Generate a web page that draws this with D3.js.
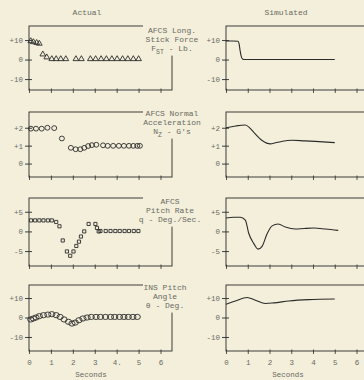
<!DOCTYPE html>
<html>
<head>
<meta charset="utf-8">
<script src="https://cdn.jsdelivr.net/npm/d3@7"></script>
<style>
  html, body { margin: 0; padding: 0; background: #f3efdb; }
  svg { display: block; }
  text { font-family: "Liberation Mono", "DejaVu Sans Mono", monospace; }
</style>
</head>
<body>
<svg id="chart" width="364" height="380"></svg>
<script>
// ---- data -------------------------------------------------------------
const columnTitles = ["Actual", "Simulated"];
const secondsTicks = [0, 1, 2, 3, 4, 5, 6];
const actualTickLabels = ["0", "1", "2", "3", "4.", "5", "6"];
const simulatedTickLabels = ["0", "1", "2", "3", "4", "5", "6"];
const xAxisTitle = "Seconds";

// AFCS longitudinal stick force, lb
const stickForceTicks = [10, 0, -10];
const stickForceTickLabels = ["+10", "0", "-10"];
const stickForceActual = [
  [0.08, 9.5], [0.2, 9.0], [0.35, 8.6], [0.47, 8.2], [0.63, 2.7], [0.81, 1.2],
  [1.04, 0.3], [1.24, 0.3], [1.45, 0.3], [1.68, 0.3], [2.14, 0.3], [2.39, 0.3],
  [2.8, 0.3], [3.04, 0.3], [3.29, 0.3], [3.53, 0.3], [3.78, 0.3], [4.02, 0.3],
  [4.27, 0.3], [4.51, 0.3], [4.76, 0.3], [5.0, 0.3]
];
const stickForceSimulated = [
  [0, 9.5], [0.3, 9.5], [0.55, 9.4], [0.6, 8.2], [0.65, 4.5], [0.7, 1.6],
  [0.76, 0.3], [0.85, 0], [2, 0], [3.5, 0], [5.0, 0]
];

// AFCS normal acceleration, g
const accelTicks = [2, 1, 0];
const accelTickLabels = ["+2", "+1", "0"];
const accelActual = [
  [0.09, 1.95], [0.32, 1.95], [0.58, 1.95], [0.84, 2.0], [1.15, 1.98],
  [1.5, 1.4], [1.91, 0.88], [2.13, 0.8], [2.34, 0.8], [2.52, 0.88],
  [2.7, 0.98], [2.87, 1.03], [3.07, 1.05], [3.38, 1.02], [3.59, 0.99],
  [3.84, 0.99], [4.1, 0.99], [4.33, 0.99], [4.56, 0.99], [4.76, 0.99],
  [4.94, 0.99], [5.06, 0.99]
];
const accelSimulated = [
  [0, 2.0], [0.45, 2.1], [0.89, 2.15], [1.1, 1.98], [1.28, 1.74],
  [1.66, 1.29], [2.04, 1.1], [2.27, 1.16], [2.6, 1.25], [3.04, 1.3],
  [3.6, 1.27], [4.1, 1.24], [5.0, 1.17]
];

// AFCS pitch rate, deg/sec
const pitchRateTicks = [5, 0, -5];
const pitchRateTickLabels = ["+5", "0", "-5"];
const pitchRateActual = [
  [0.09, 2.8], [0.28, 2.8], [0.47, 2.8], [0.66, 2.8], [0.86, 2.8], [1.04, 2.8],
  [1.24, 2.4], [1.39, 1.3], [1.54, -2.3], [1.73, -5.1], [1.88, -6.2],
  [2.03, -5.1], [2.16, -3.7], [2.28, -2.6], [2.37, -1.3], [2.52, 0.0],
  [2.72, 1.9], [3.03, 1.9], [3.1, 0.9], [3.18, 0.0], [3.26, 0.1],
  [3.5, 0.1], [3.72, 0.1], [3.94, 0.1], [4.14, 0.1], [4.36, 0.1],
  [4.56, 0.1], [4.78, 0.1], [4.99, 0.1]
];
const pitchRateSimulated = [
  [0, 3.4], [0.35, 3.6], [0.66, 3.6], [0.89, 2.9], [1.04, -0.4],
  [1.28, -3.1], [1.47, -4.5], [1.66, -3.8], [1.89, -0.6], [2.12, 1.4],
  [2.4, 1.9], [2.73, 1.1], [3.19, 0.6], [3.6, 0.75], [4.04, 0.85],
  [4.58, 0.6], [5.16, 0.25]
];

// INS pitch angle, deg
const pitchAngleTicks = [10, 0, -10];
const pitchAngleTickLabels = ["+10", "0", "-10"];
const pitchAngleActual = [
  [0.08, -1.0], [0.2, -0.5], [0.32, 0.0], [0.47, 0.7], [0.66, 1.2],
  [0.86, 1.5], [1.04, 1.7], [1.24, 1.2], [1.42, 0.3], [1.6, -1.0],
  [1.8, -2.2], [1.96, -3.1], [2.11, -2.6], [2.28, -1.4], [2.46, -0.5],
  [2.65, 0.0], [2.84, 0.3], [3.06, 0.3], [3.26, 0.3], [3.49, 0.3],
  [3.72, 0.3], [3.91, 0.3], [4.13, 0.3], [4.33, 0.3], [4.53, 0.3],
  [4.74, 0.3], [4.94, 0.3]
];
const pitchAngleSimulated = [
  [0, 6.8], [0.43, 8.5], [0.97, 10.3], [1.35, 8.9], [1.81, 7.2],
  [2.2, 7.5], [2.89, 8.5], [3.81, 9.2], [5.0, 9.5]
];

// panel captions; subscripts written as [base, sub, rest]
const stickForceLabel = ["AFCS Long.", "Stick Force", ["F", "ST", " - Lb."]];
const accelLabel = ["AFCS Normal", "Acceleration", ["N", "Z", " - G's"]];
const pitchRateLabel = ["AFCS", "Pitch Rate", "q - Deg./Sec."];
const pitchAngleLabel = ["INS Pitch", "Angle", "\u03B8 - Deg."];

// ---- layout -----------------------------------------------------------
const ink = "#2b2b2b";
const textInk = "#6a6a62";
const bg = "#f3efdb";

const panels = [
  { ticks: stickForceTicks, tickLabels: stickForceTickLabels, actual: stickForceActual,
    simulated: stickForceSimulated, label: stickForceLabel, marker: "triangle",
    domain: [-15.6, 17.2], top: 26, bottom: 90, labelX: 172, labelTop: 30 },
  { ticks: accelTicks, tickLabels: accelTickLabels, actual: accelActual,
    simulated: accelSimulated, label: accelLabel, marker: "circle",
    domain: [-0.75, 2.88], top: 112, bottom: 177, labelX: 172, labelTop: 113 },
  { ticks: pitchRateTicks, tickLabels: pitchRateTickLabels, actual: pitchRateActual,
    simulated: pitchRateSimulated, label: pitchRateLabel, marker: "square",
    domain: [-8.8, 8.5], top: 198, bottom: 266, labelX: 170, labelTop: 201 },
  { ticks: pitchAngleTicks, tickLabels: pitchAngleTickLabels, actual: pitchAngleActual,
    simulated: pitchAngleSimulated, label: pitchAngleLabel, marker: "circleWide",
    domain: [-17.2, 16.7], top: 285, bottom: 351, labelX: 165, labelTop: 287 }
];

const svg = d3.select("#chart");
svg.append("rect").attr("width", 364).attr("height", 380).attr("fill", bg);

const xActual = d3.scaleLinear().domain([0, 6]).range([29, 160.5]);
const xSim = d3.scaleLinear().domain([0, 6]).range([226, 356.5]);
const frames = [
  { x: xActual, left: 29, right: 172, tickLabels: actualTickLabels, kind: "actual" },
  { x: xSim, left: 226, right: 372, tickLabels: simulatedTickLabels, kind: "simulated" }
];

// column titles
svg.append("text").attr("x", 87).attr("y", 15).attr("text-anchor", "middle")
  .attr("font-size", 8).attr("fill", textInk).text(columnTitles[0]);
svg.append("text").attr("x", 286).attr("y", 15).attr("text-anchor", "middle")
  .attr("font-size", 8).attr("fill", textInk).text(columnTitles[1]);

const lineGen = d3.line().curve(d3.curveMonotoneX);

panels.forEach((p, pi) => {
  const y = d3.scaleLinear().domain(p.domain).range([p.bottom, p.top]);
  frames.forEach(f => {
    const g = svg.append("g");
    // frame
    g.append("rect")
      .attr("x", f.left).attr("y", p.top)
      .attr("width", f.right - f.left).attr("height", p.bottom - p.top)
      .attr("fill", "none").attr("stroke", ink).attr("stroke-width", 0.9);

    // y axis ticks crossing the left edge
    const yAxis = d3.axisLeft(y).tickValues(p.ticks)
      .tickFormat((d, i) => p.tickLabels[i]).tickSizeInner(4).tickSizeOuter(0).tickPadding(2);
    const ya = g.append("g").attr("transform", `translate(${f.left},0)`).call(yAxis);
    ya.select(".domain").remove();
    ya.selectAll(".tick line").attr("x2", -4).attr("x1", 3).attr("stroke", ink).attr("stroke-width", 0.9);
    ya.selectAll(".tick text").attr("fill", textInk).attr("font-size", 7.5)
      .attr("font-family", "Liberation Mono, DejaVu Sans Mono, monospace");

    // x axis ticks along the bottom edge
    const isLast = pi === panels.length - 1;
    const xAxis = d3.axisBottom(f.x).tickValues(secondsTicks)
      .tickFormat((d, i) => isLast ? f.tickLabels[i] : "").tickSizeInner(3).tickSizeOuter(0).tickPadding(6);
    const xa = g.append("g").attr("transform", `translate(0,${p.bottom})`).call(xAxis);
    xa.select(".domain").remove();
    xa.selectAll(".tick line").attr("y1", -1.5).attr("stroke", ink).attr("stroke-width", 0.8);
    xa.selectAll(".tick text").attr("fill", textInk).attr("font-size", 7.5)
      .attr("font-family", "Liberation Mono, DejaVu Sans Mono, monospace");

    if (f.kind === "actual") {
      const pts = p.actual;
      if (p.marker === "circle" || p.marker === "circleWide") {
        g.selectAll("ellipse.m").data(pts).join("ellipse")
          .attr("cx", d => f.x(d[0])).attr("cy", d => y(d[1]))
          .attr("rx", p.marker === "circleWide" ? 3.1 : 2.5)
          .attr("ry", p.marker === "circleWide" ? 2.6 : 2.4)
          .attr("fill", "none").attr("stroke", ink).attr("stroke-width", 0.9);
      } else {
        const sym = p.marker === "triangle" ? d3.symbolTriangle : d3.symbolSquare;
        const size = p.marker === "triangle" ? 14 : 10;
        g.selectAll("path.m").data(pts).join("path")
          .attr("transform", d => `translate(${f.x(d[0])},${y(d[1])})`)
          .attr("d", d3.symbol().type(sym).size(size))
          .attr("fill", "none").attr("stroke", ink).attr("stroke-width", 0.9);
      }
    } else {
      g.append("path")
        .attr("d", lineGen.x(d => f.x(d[0])).y(d => y(d[1]))(p.simulated))
        .attr("fill", "none").attr("stroke", ink).attr("stroke-width", 1.1);
    }
  });

  // caption box cut into the frame between the two columns
  const lineH = 9.3;
  const n = p.label.length;
  svg.append("rect")
    .attr("x", 143).attr("y", p.top - 4)
    .attr("width", 60).attr("height", p.labelTop - p.top + (n - 1) * lineH + 11)
    .attr("fill", bg);
  p.label.forEach((ln, li) => {
    const t = svg.append("text")
      .attr("x", p.labelX).attr("y", p.labelTop + li * lineH + 2.5)
      .attr("text-anchor", "middle").attr("font-size", 8).attr("fill", textInk);
    if (Array.isArray(ln)) {
      t.append("tspan").text(ln[0]);
      t.append("tspan").attr("dy", 2.5).attr("font-size", 6.5).text(ln[1]);
      t.append("tspan").attr("dy", -2.5).text(ln[2]);
    } else {
      t.text(ln);
    }
  });
});

// axis titles
svg.append("text").attr("x", 91).attr("y", 377).attr("text-anchor", "middle")
  .attr("font-size", 7.5).attr("fill", textInk).text(xAxisTitle);
svg.append("text").attr("x", 288).attr("y", 377).attr("text-anchor", "middle")
  .attr("font-size", 7.5).attr("fill", textInk).text(xAxisTitle);
</script>
</body>
</html>
